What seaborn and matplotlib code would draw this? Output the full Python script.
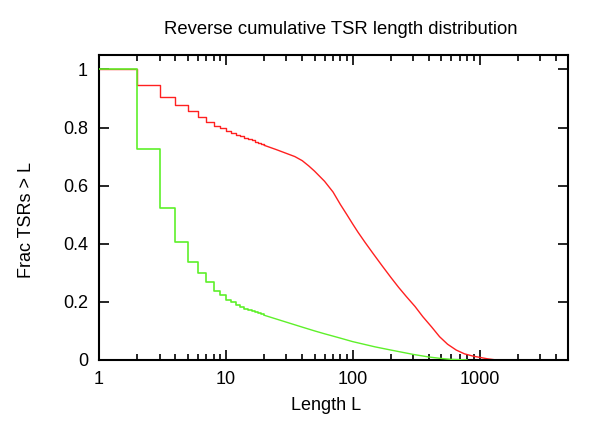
import numpy as np
import pandas as pd
import seaborn as sns
import matplotlib.pyplot as plt
from matplotlib.ticker import FixedLocator, LogLocator, NullFormatter

# step part (integer lengths)
length_steps = list(range(1, 21))
red_steps = [1.0, 0.945, 0.905, 0.879, 0.856, 0.837, 0.820, 0.806, 0.797, 0.789,
             0.782, 0.776, 0.770, 0.765, 0.760, 0.756, 0.751, 0.747, 0.743, 0.739]
green_steps = [1.0, 0.727, 0.522, 0.407, 0.338, 0.298, 0.267, 0.239, 0.224, 0.208,
               0.198, 0.190, 0.183, 0.177, 0.172, 0.168, 0.164, 0.160, 0.157, 0.154]

# smooth tail
red_len = [20, 25, 30, 35, 40, 45, 50, 60, 70, 80, 90, 100, 110, 125, 145, 170, 200, 230,
           265, 310, 357, 420, 484, 560, 655, 760, 890, 1000, 1150, 1350]
red_tail = [0.739, 0.724, 0.711, 0.700, 0.686, 0.668, 0.650, 0.615, 0.578, 0.535,
            0.500, 0.468, 0.440, 0.405, 0.366, 0.325, 0.284, 0.250, 0.218, 0.184,
            0.149, 0.113, 0.080, 0.054, 0.034, 0.021, 0.013, 0.009, 0.004, 0.0]
green_len = [20, 30, 40, 50, 60, 70, 80, 100, 150, 200, 300, 400, 500, 600, 800]
green_tail = [0.154, 0.130, 0.113, 0.100, 0.090, 0.082, 0.075, 0.063, 0.045, 0.034,
              0.019, 0.010, 0.005, 0.002, 0.0]

sns.set_style('ticks')
plt.rcParams['font.family'] = ['Liberation Sans', 'DejaVu Sans']
plt.rcParams['text.color'] = 'black'
plt.rcParams['axes.edgecolor'] = 'black'
plt.rcParams['xtick.color'] = 'black'
plt.rcParams['ytick.color'] = 'black'

red_c = '#ff2020'
green_c = '#5ef02a'

fig = plt.figure(figsize=(6, 4.29), dpi=100)
ax = fig.add_axes([0.165, 0.161, 0.782, 0.711])

steps = pd.DataFrame({'L': length_steps, 'red': red_steps, 'green': green_steps})
sns.lineplot(data=steps, x='L', y='red', color=red_c, lw=1.0, drawstyle='steps-post',
             estimator=None, sort=False, ax=ax, zorder=2)
sns.lineplot(data=steps, x='L', y='green', color=green_c, lw=1.2, drawstyle='steps-post',
             estimator=None, sort=False, ax=ax, zorder=3)
sns.lineplot(x=red_len, y=red_tail, color=red_c, lw=1.0, estimator=None, sort=False,
             ax=ax, zorder=2)
sns.lineplot(x=green_len, y=green_tail, color=green_c, lw=1.0, estimator=None, sort=False,
             ax=ax, zorder=3)

ax.set_xscale('log')
ax.set_xlim(1, 5000)
ax.set_ylim(0, 1.05)
ax.xaxis.set_major_locator(FixedLocator([1, 10, 100, 1000]))
ax.set_xticklabels(['1', '10', '100', '1000'])
ax.xaxis.set_minor_locator(LogLocator(base=10, subs=np.arange(2, 10)))
ax.xaxis.set_minor_formatter(NullFormatter())
ax.set_yticks([0, 0.2, 0.4, 0.6, 0.8, 1.0])
ax.set_yticklabels(['0', '0.2', '0.4', '0.6', '0.8', '1'])
ax.tick_params(which='both', direction='in', top=True, right=True, labelsize=13, width=1.2)
ax.tick_params(which='major', length=7, pad=8)
ax.tick_params(which='minor', length=4)
for s in ax.spines.values():
    s.set_linewidth(1.5)
    s.set_visible(True)
ax.set_xlabel('')
ax.set_ylabel('')

fig.text(341 / 600, 1 - 29 / 429, 'Reverse cumulative TSR length distribution',
         ha='center', va='center', fontsize=13.3)
fig.text(326 / 600, 1 - 406 / 429, 'Length L', ha='center', va='center', fontsize=13)
fig.text(27 / 600, 1 - 220 / 429, 'Frac TSRs > L', ha='center', va='center',
         rotation=90, fontsize=13)

fig.savefig('out.png', dpi=100)
